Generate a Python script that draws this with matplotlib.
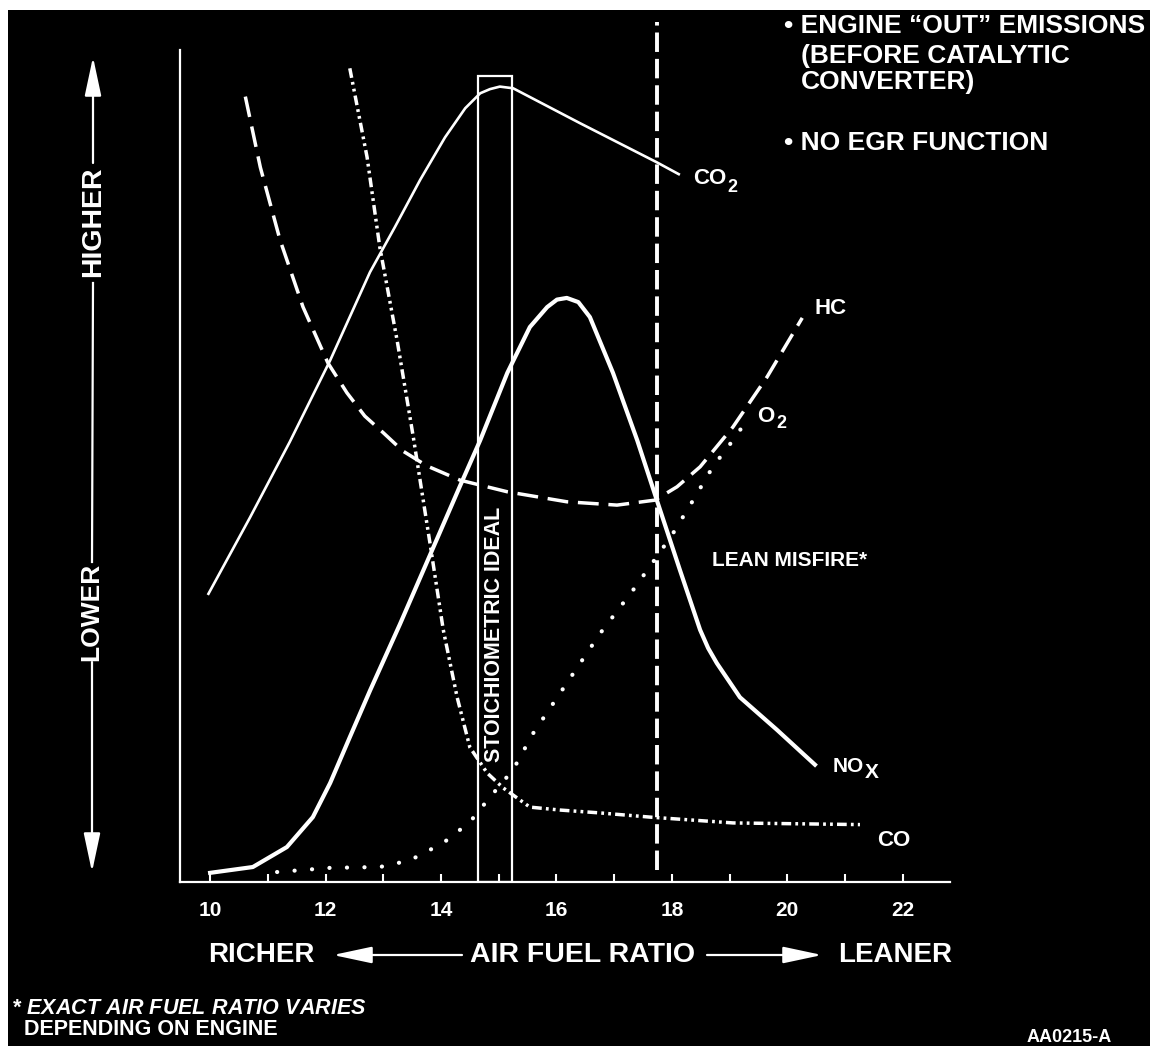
import matplotlib
matplotlib.use("Agg")
import matplotlib.pyplot as plt
from matplotlib.patches import Rectangle, FancyArrowPatch

plt.rcParams["font.family"] = ["Liberation Sans", "DejaVu Sans"]
plt.rcParams["font.weight"] = "bold"
plt.rcParams["lines.scale_dashes"] = False
plt.rcParams["mathtext.fontset"] = "custom"
plt.rcParams["mathtext.it"] = "Liberation Sans:italic:bold"
plt.rcParams["mathtext.rm"] = "Liberation Sans:bold"

W, H = 1150, 1046

# curves (x = air fuel ratio, y = relative level 0..100)
co2_x = [9.96, 10.69, 11.38, 12.08, 12.77, 13.20, 13.64, 14.07, 14.42, 14.68, 14.85, 15.02, 15.25,
         16.41, 17.74, 18.14]
co2_y = [34.5, 43.8, 52.9, 62.7, 73.3, 78.7, 84.4, 89.5, 93.0, 94.8, 95.3, 95.6, 95.4,
         91.2, 86.5, 85.0]

nox_x = [10.00, 10.74, 11.33, 11.78, 12.08, 12.42, 12.77, 13.29, 13.81, 14.33, 14.68, 15.15, 15.54,
         15.84, 16.01, 16.18, 16.38, 16.58, 16.98, 17.40, 17.74, 18.14, 18.49, 18.63, 18.78,
         19.18, 19.82, 20.48]
nox_y = [1.1, 1.8, 4.2, 7.8, 11.9, 17.4, 23.0, 31.0, 39.3, 47.6, 53.1, 61.2, 66.7,
         69.1, 70.0, 70.2, 69.7, 67.9, 61.2, 53.1, 45.9, 37.5, 30.3, 28.1, 26.3,
         22.2, 18.3, 14.1]

hc_x = [10.61, 10.87, 11.21, 11.61, 12.04, 12.37, 12.68, 13.00, 13.34, 13.76, 14.33, 15.15,
        16.18, 17.05, 17.71, 18.09, 18.49, 19.06, 19.65, 20.26]
hc_y = [94.4, 85.9, 77.2, 69.1, 62.4, 58.8, 56.0, 54.0, 51.8, 50.0, 48.3, 46.9,
        45.7, 45.3, 45.9, 47.5, 49.9, 54.7, 60.7, 67.8]

o2_x = [11.16, 12.08, 12.94, 13.46, 14.04, 14.50, 14.85, 15.25, 15.60, 16.18, 16.76, 17.33,
        17.74, 18.02, 18.37, 18.71, 19.06, 19.30]
o2_y = [1.2, 1.7, 1.8, 2.6, 4.7, 7.2, 10.2, 13.5, 17.9, 23.9, 29.9, 35.1,
        39.1, 41.9, 45.9, 49.9, 53.1, 55.5]

co_x = [12.42, 12.72, 12.94, 13.24, 13.52, 13.59, 13.81, 14.04, 14.28, 14.50, 14.80, 15.08,
        15.54, 16.06, 16.76, 17.62, 19.06, 21.26]
co_y = [97.8, 87.1, 76.3, 65.1, 53.5, 50.4, 40.7, 30.3, 22.2, 16.2, 13.1, 11.3,
        9.0, 8.65, 8.3, 7.8, 7.1, 6.9]

stoich_lo, stoich_hi, stoich_top = 14.64, 15.23, 96.9
lean_misfire = 17.74

major_ticks = [10, 12, 14, 16, 18, 20, 22]
minor_ticks = [11, 13, 15, 17, 19, 21]


def fp(x, y):
    # pixel position in the picture -> figure fraction
    return x / W, 1 - y / H


fig = plt.figure(figsize=(W / 100, H / 100), dpi=100, facecolor="white")
fig.add_artist(Rectangle(fp(8, 1046), 1142 / W, 1036 / H, transform=fig.transFigure,
                         facecolor="black", edgecolor="none", zorder=0))

ax = fig.add_axes([180 / W, 1 - 882 / H, 770 / W, 832 / H])
ax.set_facecolor("black")
ax.set_xlim(9.478, 22.82)
ax.set_ylim(0, 100)
for s in ["top", "right"]:
    ax.spines[s].set_visible(False)
for s in ["left", "bottom"]:
    ax.spines[s].set_color("white")
    ax.spines[s].set_linewidth(1.6)
ax.set_yticks([])
ax.set_xticks(major_ticks)
ax.set_xticks(minor_ticks, minor=True)
ax.tick_params(axis="x", which="both", direction="in", length=6, width=1.5, color="white")
ax.tick_params(axis="x", which="major", pad=14, labelsize=15, labelcolor="white")
for t in ax.get_xticklabels():
    t.set_fontweight("bold")

ax.plot(co2_x, co2_y, color="white", lw=1.9, solid_joinstyle="round", solid_capstyle="butt")
ax.plot(nox_x, nox_y, color="white", lw=3.0, solid_joinstyle="round")
ax.plot(hc_x, hc_y, color="white", lw=2.5, dashes=(15, 7))
ax.plot(o2_x, o2_y, color="white", lw=3.0, dashes=(0.1, 12.5), dash_capstyle="round")
ax.plot(co_x, co_y, color="white", lw=2.5, dashes=(7, 3, 2, 3, 2, 3))
ax.plot([lean_misfire, lean_misfire], [1.4, 103.4], color="white", lw=2.8,
        dashes=(14, 5), clip_on=False)
ax.add_patch(Rectangle((stoich_lo, 0), stoich_hi - stoich_lo, stoich_top, fill=False,
                       edgecolor="white", lw=1.6))
ax.text((stoich_lo + stoich_hi) / 2, 14.4, "STOICHIOMETRIC IDEAL", rotation=90,
        color="white", fontsize=15.5, fontweight="bold", ha="center", va="bottom")


def ftxt(x, y, s, size=16, **kw):
    fig.text(*fp(x, y), s, color="white", fontsize=size, fontweight="bold",
             va="center", **kw)


# curve labels
ftxt(693, 179, "CO")
ftxt(727, 187, "2", size=13)
ftxt(815, 308, "HC")
ftxt(757, 416, "O")
ftxt(776, 424, "2", size=13)
ftxt(833, 766, "NO", size=15)
ftxt(865, 772, "X", size=15)
ftxt(877, 840, "CO")
ftxt(712, 560, "LEAN MISFIRE*", size=15)

# notes top right
ftxt(784, 26, "• ENGINE “OUT” EMISSIONS", size=19)
ftxt(801, 56, "(BEFORE CATALYTIC", size=19)
ftxt(801, 82, "CONVERTER)", size=19)
ftxt(784, 143, "• NO EGR FUNCTION", size=19)

# x axis caption with arrows
ftxt(208, 955, "RICHER", size=20)
ftxt(470, 955, "AIR FUEL RATIO", size=20.5)
ftxt(838, 955, "LEANER", size=20)
arrow_kw = dict(transform=fig.transFigure, arrowstyle="-|>,head_length=1.5,head_width=0.32",
                mutation_scale=16, color="white", lw=1.6, shrinkA=0, shrinkB=0)
fig.add_artist(FancyArrowPatch(fp(462, 955), fp(333, 955), **arrow_kw))
fig.add_artist(FancyArrowPatch(fp(707, 955), fp(822, 955), **arrow_kw))

# y axis caption
fig.add_artist(FancyArrowPatch(fp(93, 163), fp(93, 57), **arrow_kw))
fig.add_artist(FancyArrowPatch(fp(92, 662), fp(92, 872), **arrow_kw))
fig.add_artist(plt.Line2D(*zip(fp(93, 283), fp(92, 562)), transform=fig.transFigure,
                          color="white", lw=1.6))
fig.text(*fp(93, 222), "HIGHER", rotation=90, color="white", fontsize=20.5, fontweight="bold",
         ha="center", va="center")
fig.text(*fp(91, 612), "LOWER", rotation=90, color="white", fontsize=19, fontweight="bold",
         ha="center", va="center")

# footnote: first line italic, second upright, kept in one text block
note = ("* $\\mathit{EXACT\\ AIR\\ FUEL\\ RATIO\\ VARIES}$\n"
        "  DEPENDING ON ENGINE")
fig.text(*fp(12, 1019), note, color="white", fontsize=15.5, fontweight="bold",
         va="center", linespacing=0.95)
fig.text(*fp(1112, 1037), "AA0215-A", color="white", fontsize=13, fontweight="bold",
         va="center", ha="right")

fig.savefig("out.png", dpi=100, facecolor="white")
